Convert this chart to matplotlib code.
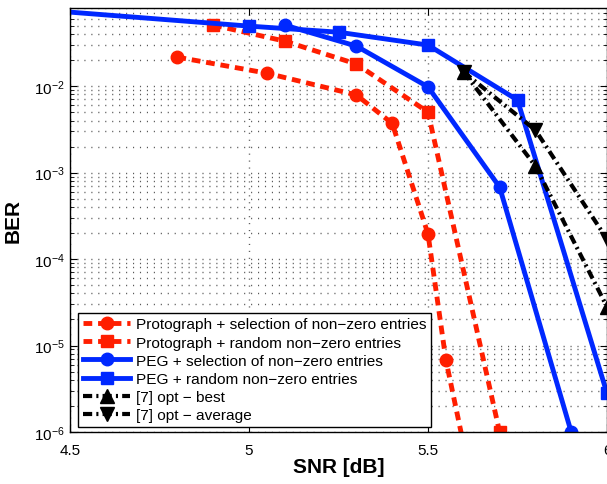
import matplotlib
matplotlib.use("Agg")
import matplotlib.pyplot as plt
from matplotlib.ticker import LogLocator, NullFormatter, FixedLocator

plt.rcParams['font.family'] = ['Liberation Sans', 'DejaVu Sans']
plt.rcParams['mathtext.fontset'] = 'custom'
plt.rcParams['mathtext.rm'] = 'Liberation Sans'
plt.rcParams['mathtext.it'] = 'Liberation Sans:italic'
plt.rcParams['mathtext.bf'] = 'Liberation Sans:bold'

# Data
proto_sel_snr = [4.8, 5.05, 5.3, 5.4, 5.5, 5.55, 5.6]
proto_sel_ber = [0.0216, 0.0141, 0.0079, 0.0037, 1.95e-4, 6.8e-6, 7e-7]

proto_rand_snr = [4.9, 5.1, 5.3, 5.5, 5.7]
proto_rand_ber = [0.0507, 0.0331, 0.0180, 0.0050, 1.0e-6]

peg_sel_snr = [5.1, 5.3, 5.5, 5.7, 5.9]
peg_sel_ber = [0.0507, 0.029, 0.0098, 6.8e-4, 1.0e-6]

peg_rand_snr = [4.0, 5.0, 5.25, 5.5, 5.75, 6.0]
peg_rand_ber = [0.104, 0.0494, 0.042, 0.0298, 0.0069, 2.8e-6]

opt_best_snr = [5.6, 5.8, 6.0]
opt_best_ber = [0.0145, 0.00119, 2.8e-5]

opt_avg_snr = [5.6, 5.8, 6.0]
opt_avg_ber = [0.0145, 0.0031, 1.7e-4]

labels = ["Protograph + selection of non\u2212zero entries",
          "Protograph + random non\u2212zero entries",
          "PEG + selection of non\u2212zero entries",
          "PEG + random non\u2212zero entries",
          "[7] opt \u2212 best",
          "[7] opt \u2212 average"]

RED = '#ff1e00'
BLUE = '#0028ff'

fig = plt.figure(figsize=(6.07, 4.85), dpi=100)
ax = fig.add_axes([70/607, 1-433/485, 537/607, 424/485])

ax.semilogy(proto_sel_snr, proto_sel_ber, '--', color=RED, lw=3.5, marker='o', ms=9,
            dashes=(1.8, 1.2), label=labels[0])
ax.semilogy(proto_rand_snr, proto_rand_ber, '--', color=RED, lw=3.5, marker='s', ms=8,
            dashes=(1.8, 1.2), label=labels[1])
ax.semilogy(peg_sel_snr, peg_sel_ber, '-', color=BLUE, lw=3.5, marker='o', ms=9, label=labels[2])
ax.semilogy(peg_rand_snr, peg_rand_ber, '-', color=BLUE, lw=3.5, marker='s', ms=8, label=labels[3])
ax.semilogy(opt_best_snr, opt_best_ber, '-.', color='black', lw=3, marker='^', ms=10,
            dashes=(2.2, 1.0, 0.5, 1.0), label=labels[4])
ax.semilogy(opt_avg_snr, opt_avg_ber, '-.', color='black', lw=3, marker='v', ms=10,
            dashes=(2.2, 1.0, 0.5, 1.0), label=labels[5])

ax.set_xlim(4.5, 6.0)
ax.set_ylim(1e-6, 0.08)
ax.xaxis.set_major_locator(FixedLocator([4.5, 5, 5.5, 6]))
ax.set_xticklabels(['4.5', '5', '5.5', '6'])
ax.yaxis.set_major_locator(LogLocator(base=10, numticks=10))
ax.yaxis.set_minor_locator(LogLocator(base=10, subs=range(2, 10), numticks=20))
ax.yaxis.set_minor_formatter(NullFormatter())

ax.tick_params(which='both', direction='in', top=True, right=True, labelsize=11)
ax.tick_params(which='major', length=5)
ax.tick_params(which='minor', length=3)
ax.tick_params(axis='x', which='major', pad=8)
ax.tick_params(axis='y', which='major', pad=4)

grid_ls = (0, (0.8, 4.2))
ax.grid(True, which='major', axis='both', linestyle=grid_ls, color='0.35', lw=1.0)
ax.grid(True, which='minor', axis='y', linestyle=grid_ls, color='0.35', lw=1.0)
ax.set_axisbelow(True)

ax.set_xlabel('SNR [dB]', fontsize=15, fontweight='bold', labelpad=0)
ax.set_ylabel('BER', fontsize=15, fontweight='bold', labelpad=8)

leg = ax.legend(loc='lower left', bbox_to_anchor=(0.015, 0.012), borderaxespad=0,
                fontsize=11.1, handlelength=3.1, handletextpad=0.35, labelspacing=0.27,
                fancybox=False, framealpha=1, edgecolor='black', borderpad=0.3)
leg.get_frame().set_linewidth(1.0)

for s in ax.spines.values():
    s.set_linewidth(1.0)

fig.savefig('out.png', dpi=100)
